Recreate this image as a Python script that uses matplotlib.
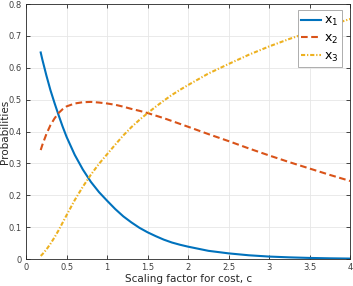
import numpy as np
import matplotlib
matplotlib.use('Agg')
import matplotlib.pyplot as plt

# values
c = [0.18, 0.2, 0.25, 0.3, 0.35, 0.4, 0.45, 0.5, 0.6, 0.7, 0.8, 0.9, 1.0,
     1.1, 1.2, 1.3, 1.4, 1.5, 1.6, 1.7, 1.8, 1.9, 2.0, 2.25, 2.5, 2.75,
     3.0, 3.25, 3.5, 3.75, 4.0]
x1 = [0.648, 0.626, 0.576, 0.530, 0.490, 0.452, 0.416, 0.383, 0.327, 0.281,
      0.242, 0.210, 0.183, 0.157, 0.134, 0.115, 0.098, 0.084, 0.072, 0.061,
      0.052, 0.045, 0.039, 0.026, 0.018, 0.012, 0.008, 0.0055, 0.0037,
      0.0025, 0.0017]
x2 = [0.342, 0.358, 0.392, 0.420, 0.441, 0.458, 0.470, 0.479, 0.488, 0.492,
      0.493, 0.491, 0.488, 0.484, 0.478, 0.471, 0.465, 0.458, 0.450, 0.442,
      0.433, 0.424, 0.415, 0.392, 0.370, 0.347, 0.325, 0.304, 0.284, 0.264,
      0.245]
x3 = [0.010, 0.015, 0.030, 0.048, 0.068, 0.090, 0.114, 0.138, 0.185, 0.227,
      0.265, 0.299, 0.329, 0.359, 0.388, 0.414, 0.437, 0.458, 0.478, 0.497,
      0.515, 0.531, 0.546, 0.582, 0.612, 0.641, 0.667, 0.6905, 0.712,
      0.7335, 0.753]

x_ticks = [0, 0.5, 1, 1.5, 2, 2.5, 3, 3.5, 4]
x_labels = ['0', '0.5', '1', '1.5', '2', '2.5', '3', '3.5', '4']
y_ticks = [0, 0.1, 0.2, 0.3, 0.4, 0.5, 0.6, 0.7, 0.8]
y_labels = ['0', '0.1', '0.2', '0.3', '0.4', '0.5', '0.6', '0.7', '0.8']

BLUE = '#0072BD'
ORANGE = '#D95319'
YELLOW = '#EDB120'
AXC = '#262626'

fig = plt.figure(figsize=(3.53, 2.86), dpi=100)
ax = fig.add_axes([0.074, 0.094, 0.918, 0.892])

ax.plot(c, x1, color=BLUE, lw=1.5, label=r'$\mathregular{x_1}$')
ax.plot(c, x2, color=ORANGE, lw=1.5, ls=(0, (3.2, 1.7)), label=r'$\mathregular{x_2}$')
ax.plot(c, x3, color=YELLOW, lw=1.5, ls=(0, (2, 0.9, 0.6, 0.9)), label=r'$\mathregular{x_3}$')

ax.set_xlim(0, 4)
ax.set_ylim(0, 0.8)
ax.set_xticks(x_ticks)
ax.set_xticklabels(x_labels)
ax.set_yticks(y_ticks)
ax.set_yticklabels(y_labels)
ax.grid(True, color='#e6e6e6', lw=0.6)
ax.set_axisbelow(True)
ax.tick_params(direction='in', length=3, width=0.6, colors=AXC, labelsize=6,
               top=True, right=True, labelcolor='#404040', pad=3)
for s in ax.spines.values():
    s.set_color(AXC)
    s.set_linewidth(0.6)

ax.set_xlabel('Scaling factor for cost, c', fontsize=7.5, color=AXC, labelpad=1)
ax.set_ylabel('Probabilities', fontsize=7.5, color=AXC)
ax.yaxis.set_label_coords(-0.05, 0.5)

leg = ax.legend(loc='upper right', fontsize=9, handlelength=1.6, handletextpad=0.2,
                borderpad=0.3, labelspacing=0.3, fancybox=False, borderaxespad=0,
                bbox_to_anchor=(0.975, 0.976), framealpha=1)
leg.get_frame().set_edgecolor('#a0a0a0')
leg.get_frame().set_linewidth(0.6)

fig.savefig('out.png', dpi=100)
